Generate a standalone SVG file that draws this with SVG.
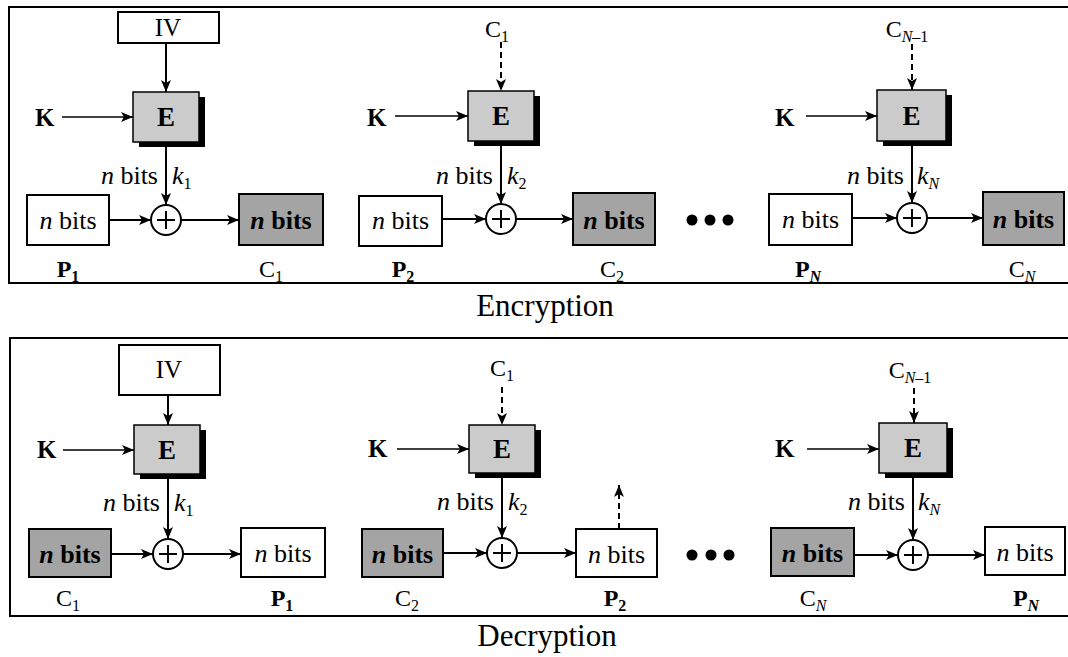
<svg xmlns="http://www.w3.org/2000/svg" width="1068" height="657" viewBox="0 0 1068 657">
<style>
text{font-family:"Liberation Serif","Times New Roman",serif;fill:#000}
.panel{fill:none;stroke:#000;stroke-width:2}
.box{fill:#fff;stroke:#000;stroke-width:2}
.ebox{fill:#cbcbcb;stroke:#000;stroke-width:1.5}
.dark{fill:#a4a4a4;stroke:#000;stroke-width:2}
.shadow{fill:#000}
.ln{stroke:#000;stroke-width:2;fill:none}
.thin{stroke-width:1.4}
.dash{stroke-dasharray:6 4}
.arr{marker-end:url(#ah)}
.xor{fill:#fff;stroke:#000;stroke-width:2}
.t{font-size:26px}
.tb{font-size:26px;font-weight:bold}
.lab{font-size:24px}
.labb{font-size:24px;font-weight:bold}
.e{font-size:27px;font-weight:bold}
.k{font-size:25px;font-weight:bold}
.iv{font-size:25px}
.ttl{font-size:31px}
.sub{font-size:16px}
.dot{fill:#000}
</style>
<defs>
<marker id="ah" markerUnits="userSpaceOnUse" markerWidth="12" markerHeight="10" refX="12" refY="5" orient="auto">
<path d="M0,0 L12,5 L0,10 L3,5 z" fill="#000"/>
</marker>
</defs>

<g id="panels">
<path class="panel" d="M1068,7 H9 V283 H1068"/>
<path class="panel" d="M1068,338 H10 V616 H1068"/>
</g>

<g id="connectors">
<line class="ln arr" x1="166" y1="43" x2="166" y2="92"/>
<line class="ln thin arr" x1="62" y1="117" x2="133" y2="117"/>
<line class="ln arr" x1="166" y1="142" x2="166" y2="205"/>
<line class="ln arr" x1="109" y1="220" x2="151" y2="220"/>
<line class="ln arr" x1="181" y1="220" x2="239" y2="220"/>
<line class="ln dash arr" x1="501" y1="42" x2="501" y2="91"/>
<line class="ln thin arr" x1="395" y1="116" x2="468" y2="116"/>
<line class="ln arr" x1="501" y1="141" x2="501" y2="204"/>
<line class="ln arr" x1="442" y1="219" x2="486" y2="219"/>
<line class="ln arr" x1="516" y1="219" x2="573" y2="219"/>
<line class="ln dash arr" x1="912" y1="44" x2="912" y2="90"/>
<line class="ln thin arr" x1="806" y1="116" x2="877" y2="116"/>
<line class="ln arr" x1="912" y1="141" x2="912" y2="203"/>
<line class="ln arr" x1="852" y1="218" x2="897" y2="218"/>
<line class="ln arr" x1="927" y1="218" x2="983" y2="218"/>
<line class="ln arr" x1="168" y1="395" x2="168" y2="425"/>
<line class="ln thin arr" x1="63" y1="450" x2="134" y2="450"/>
<line class="ln arr" x1="168" y1="474" x2="168" y2="539"/>
<line class="ln arr" x1="111" y1="554" x2="153" y2="554"/>
<line class="ln arr" x1="183" y1="554" x2="241" y2="554"/>
<line class="ln dash arr" x1="502" y1="387" x2="502" y2="425"/>
<line class="ln thin arr" x1="397" y1="449" x2="469" y2="449"/>
<line class="ln arr" x1="502" y1="473" x2="502" y2="538"/>
<line class="ln arr" x1="443" y1="553" x2="487" y2="553"/>
<line class="ln arr" x1="517" y1="553" x2="576" y2="553"/>
<line class="ln dash arr" x1="619" y1="529" x2="619" y2="485"/>
<line class="ln dash arr" x1="914" y1="388" x2="914" y2="423"/>
<line class="ln thin arr" x1="807" y1="449" x2="879" y2="449"/>
<line class="ln arr" x1="913" y1="473" x2="913" y2="540"/>
<line class="ln arr" x1="854" y1="555" x2="898" y2="555"/>
<line class="ln arr" x1="928" y1="555" x2="985" y2="555"/>
</g>

<g id="enc-iv">
<rect class="box" x="118" y="12" width="101" height="31"/>
<text class="iv" x="168" y="36" text-anchor="middle">IV</text>
</g>
<g id="enc-e1">
<rect class="shadow" x="139" y="97" width="66" height="50"/>
<rect class="ebox" x="133" y="92" width="66" height="50"/>
<text class="e" x="166" y="126" text-anchor="middle">E</text>
</g>
<g id="enc-k1"><text class="k" x="35" y="126">K</text></g>
<g id="enc-lab1">
<text class="t" x="158" y="184" text-anchor="end"><tspan font-style="italic">n</tspan> bits</text>
<text class="t" x="172" y="184"><tspan font-style="italic">k</tspan><tspan class="sub" dy="5">1</tspan></text>
</g>
<g id="enc-p1">
<rect class="box" x="27" y="195" width="82" height="50"/>
<text class="t" x="68" y="229" text-anchor="middle"><tspan font-style="italic">n</tspan> bits</text>
<text class="labb" x="68" y="277" text-anchor="middle">P<tspan class="sub" dy="5">1</tspan></text>
</g>
<g id="enc-x1">
<circle class="xor" cx="166" cy="220" r="15"/>
<path class="ln" d="M166,211 V229 M157,220 H175"/>
</g>
<g id="enc-c1">
<rect class="dark" x="239" y="194" width="84" height="51"/>
<text class="tb" x="281" y="229" text-anchor="middle"><tspan font-style="italic">n</tspan> bits</text>
<text class="lab" x="271" y="277" text-anchor="middle">C<tspan class="sub" dy="5">1</tspan></text>
</g>

<g id="enc-in2"><text class="lab" x="497" y="37" text-anchor="middle">C<tspan class="sub" dy="5">1</tspan></text></g>
<g id="enc-e2">
<rect class="shadow" x="474" y="96" width="66" height="50"/>
<rect class="ebox" x="468" y="91" width="66" height="50"/>
<text class="e" x="501" y="125" text-anchor="middle">E</text>
</g>
<g id="enc-k2"><text class="k" x="367" y="126">K</text></g>
<g id="enc-lab2">
<text class="t" x="493" y="184" text-anchor="end"><tspan font-style="italic">n</tspan> bits</text>
<text class="t" x="507" y="184"><tspan font-style="italic">k</tspan><tspan class="sub" dy="5">2</tspan></text>
</g>
<g id="enc-p2">
<rect class="box" x="359" y="196" width="83" height="50"/>
<text class="t" x="400.5" y="229" text-anchor="middle"><tspan font-style="italic">n</tspan> bits</text>
<text class="labb" x="403" y="277" text-anchor="middle">P<tspan class="sub" dy="5">2</tspan></text>
</g>
<g id="enc-x2">
<circle class="xor" cx="501" cy="219" r="15"/>
<path class="ln" d="M501,210 V228 M492,219 H510"/>
</g>
<g id="enc-c2">
<rect class="dark" x="573" y="193" width="82" height="52"/>
<text class="tb" x="614" y="229" text-anchor="middle"><tspan font-style="italic">n</tspan> bits</text>
<text class="lab" x="612" y="277" text-anchor="middle">C<tspan class="sub" dy="5">2</tspan></text>
</g>
<g id="enc-dots">
<circle class="dot" cx="692" cy="220" r="5.5"/>
<circle class="dot" cx="710" cy="220" r="5.5"/>
<circle class="dot" cx="728" cy="220" r="5.5"/>
</g>

<g id="enc-in3"><text class="lab" x="907" y="37" text-anchor="middle">C<tspan class="sub" dy="5"><tspan font-style="italic">N</tspan>–1</tspan></text></g>
<g id="enc-e3">
<rect class="shadow" x="883" y="95" width="69" height="51"/>
<rect class="ebox" x="877" y="90" width="69" height="51"/>
<text class="e" x="911.5" y="125" text-anchor="middle">E</text>
</g>
<g id="enc-k3"><text class="k" x="775" y="126">K</text></g>
<g id="enc-lab3">
<text class="t" x="904" y="184" text-anchor="end"><tspan font-style="italic">n</tspan> bits</text>
<text class="t" x="917" y="184"><tspan font-style="italic">k</tspan><tspan class="sub" dy="5" font-style="italic">N</tspan></text>
</g>
<g id="enc-pn">
<rect class="box" x="769" y="194" width="83" height="51"/>
<text class="t" x="810.5" y="228" text-anchor="middle"><tspan font-style="italic">n</tspan> bits</text>
<text class="labb" x="808" y="277" text-anchor="middle">P<tspan class="sub" dy="5" font-style="italic">N</tspan></text>
</g>
<g id="enc-x3">
<circle class="xor" cx="912" cy="218" r="15"/>
<path class="ln" d="M912,209 V227 M903,218 H921"/>
</g>
<g id="enc-cn">
<rect class="dark" x="983" y="192" width="81" height="53"/>
<text class="tb" x="1023.5" y="228" text-anchor="middle"><tspan font-style="italic">n</tspan> bits</text>
<text class="lab" x="1022" y="277" text-anchor="middle">C<tspan class="sub" dy="5" font-style="italic">N</tspan></text>
</g>

<g id="title-enc"><text class="ttl" x="545" y="316" text-anchor="middle">Encryption</text></g>

<g id="dec-iv">
<rect class="box" x="119" y="345" width="101" height="50"/>
<text class="iv" x="169" y="378" text-anchor="middle">IV</text>
</g>
<g id="dec-e1">
<rect class="shadow" x="140" y="430" width="66" height="49"/>
<rect class="ebox" x="134" y="425" width="66" height="49"/>
<text class="e" x="167" y="459" text-anchor="middle">E</text>
</g>
<g id="dec-k1"><text class="k" x="37" y="458">K</text></g>
<g id="dec-lab1">
<text class="t" x="160" y="511" text-anchor="end"><tspan font-style="italic">n</tspan> bits</text>
<text class="t" x="174" y="511"><tspan font-style="italic">k</tspan><tspan class="sub" dy="5">1</tspan></text>
</g>
<g id="dec-c1">
<rect class="dark" x="29" y="529" width="82" height="48"/>
<text class="tb" x="70" y="563" text-anchor="middle"><tspan font-style="italic">n</tspan> bits</text>
<text class="lab" x="68" y="606" text-anchor="middle">C<tspan class="sub" dy="5">1</tspan></text>
</g>
<g id="dec-x1">
<circle class="xor" cx="168" cy="554" r="15"/>
<path class="ln" d="M168,545 V563 M159,554 H177"/>
</g>
<g id="dec-p1">
<rect class="box" x="241" y="528" width="84" height="49"/>
<text class="t" x="283" y="562" text-anchor="middle"><tspan font-style="italic">n</tspan> bits</text>
<text class="labb" x="282" y="606" text-anchor="middle">P<tspan class="sub" dy="5">1</tspan></text>
</g>

<g id="dec-in2"><text class="lab" x="502" y="376" text-anchor="middle">C<tspan class="sub" dy="5">1</tspan></text></g>
<g id="dec-e2">
<rect class="shadow" x="475" y="430" width="66" height="48"/>
<rect class="ebox" x="469" y="425" width="66" height="48"/>
<text class="e" x="502" y="458" text-anchor="middle">E</text>
</g>
<g id="dec-k2"><text class="k" x="368" y="457">K</text></g>
<g id="dec-lab2">
<text class="t" x="494" y="510" text-anchor="end"><tspan font-style="italic">n</tspan> bits</text>
<text class="t" x="508" y="510"><tspan font-style="italic">k</tspan><tspan class="sub" dy="5">2</tspan></text>
</g>
<g id="dec-c2">
<rect class="dark" x="362" y="529" width="81" height="48"/>
<text class="tb" x="402.5" y="563" text-anchor="middle"><tspan font-style="italic">n</tspan> bits</text>
<text class="lab" x="407" y="606" text-anchor="middle">C<tspan class="sub" dy="5">2</tspan></text>
</g>
<g id="dec-x2">
<circle class="xor" cx="502" cy="553" r="15"/>
<path class="ln" d="M502,544 V562 M493,553 H511"/>
</g>
<g id="dec-p2">
<rect class="box" x="576" y="529" width="81" height="48"/>
<text class="t" x="616.5" y="563" text-anchor="middle"><tspan font-style="italic">n</tspan> bits</text>
<text class="labb" x="615" y="606" text-anchor="middle">P<tspan class="sub" dy="5">2</tspan></text>
</g>
<g id="dec-dots">
<circle class="dot" cx="692" cy="555" r="5.5"/>
<circle class="dot" cx="711" cy="555" r="5.5"/>
<circle class="dot" cx="729" cy="555" r="5.5"/>
</g>

<g id="dec-in3"><text class="lab" x="910" y="378" text-anchor="middle">C<tspan class="sub" dy="5"><tspan font-style="italic">N</tspan>–1</tspan></text></g>
<g id="dec-e3">
<rect class="shadow" x="885" y="428" width="68" height="50"/>
<rect class="ebox" x="879" y="423" width="68" height="50"/>
<text class="e" x="913" y="457" text-anchor="middle">E</text>
</g>
<g id="dec-k3"><text class="k" x="775" y="457">K</text></g>
<g id="dec-lab3">
<text class="t" x="905" y="510" text-anchor="end"><tspan font-style="italic">n</tspan> bits</text>
<text class="t" x="918" y="510"><tspan font-style="italic">k</tspan><tspan class="sub" dy="5" font-style="italic">N</tspan></text>
</g>
<g id="dec-cn">
<rect class="dark" x="771" y="528" width="83" height="48"/>
<text class="tb" x="812.5" y="562" text-anchor="middle"><tspan font-style="italic">n</tspan> bits</text>
<text class="lab" x="813" y="606" text-anchor="middle">C<tspan class="sub" dy="5" font-style="italic">N</tspan></text>
</g>
<g id="dec-x3">
<circle class="xor" cx="913" cy="555" r="15"/>
<path class="ln" d="M913,546 V564 M904,555 H922"/>
</g>
<g id="dec-pn">
<rect class="box" x="985" y="527" width="80" height="48"/>
<text class="t" x="1025" y="561" text-anchor="middle"><tspan font-style="italic">n</tspan> bits</text>
<text class="labb" x="1026" y="606" text-anchor="middle">P<tspan class="sub" dy="5" font-style="italic">N</tspan></text>
</g>

<g id="title-dec"><text class="ttl" x="547" y="646" text-anchor="middle">Decryption</text></g>
</svg>
